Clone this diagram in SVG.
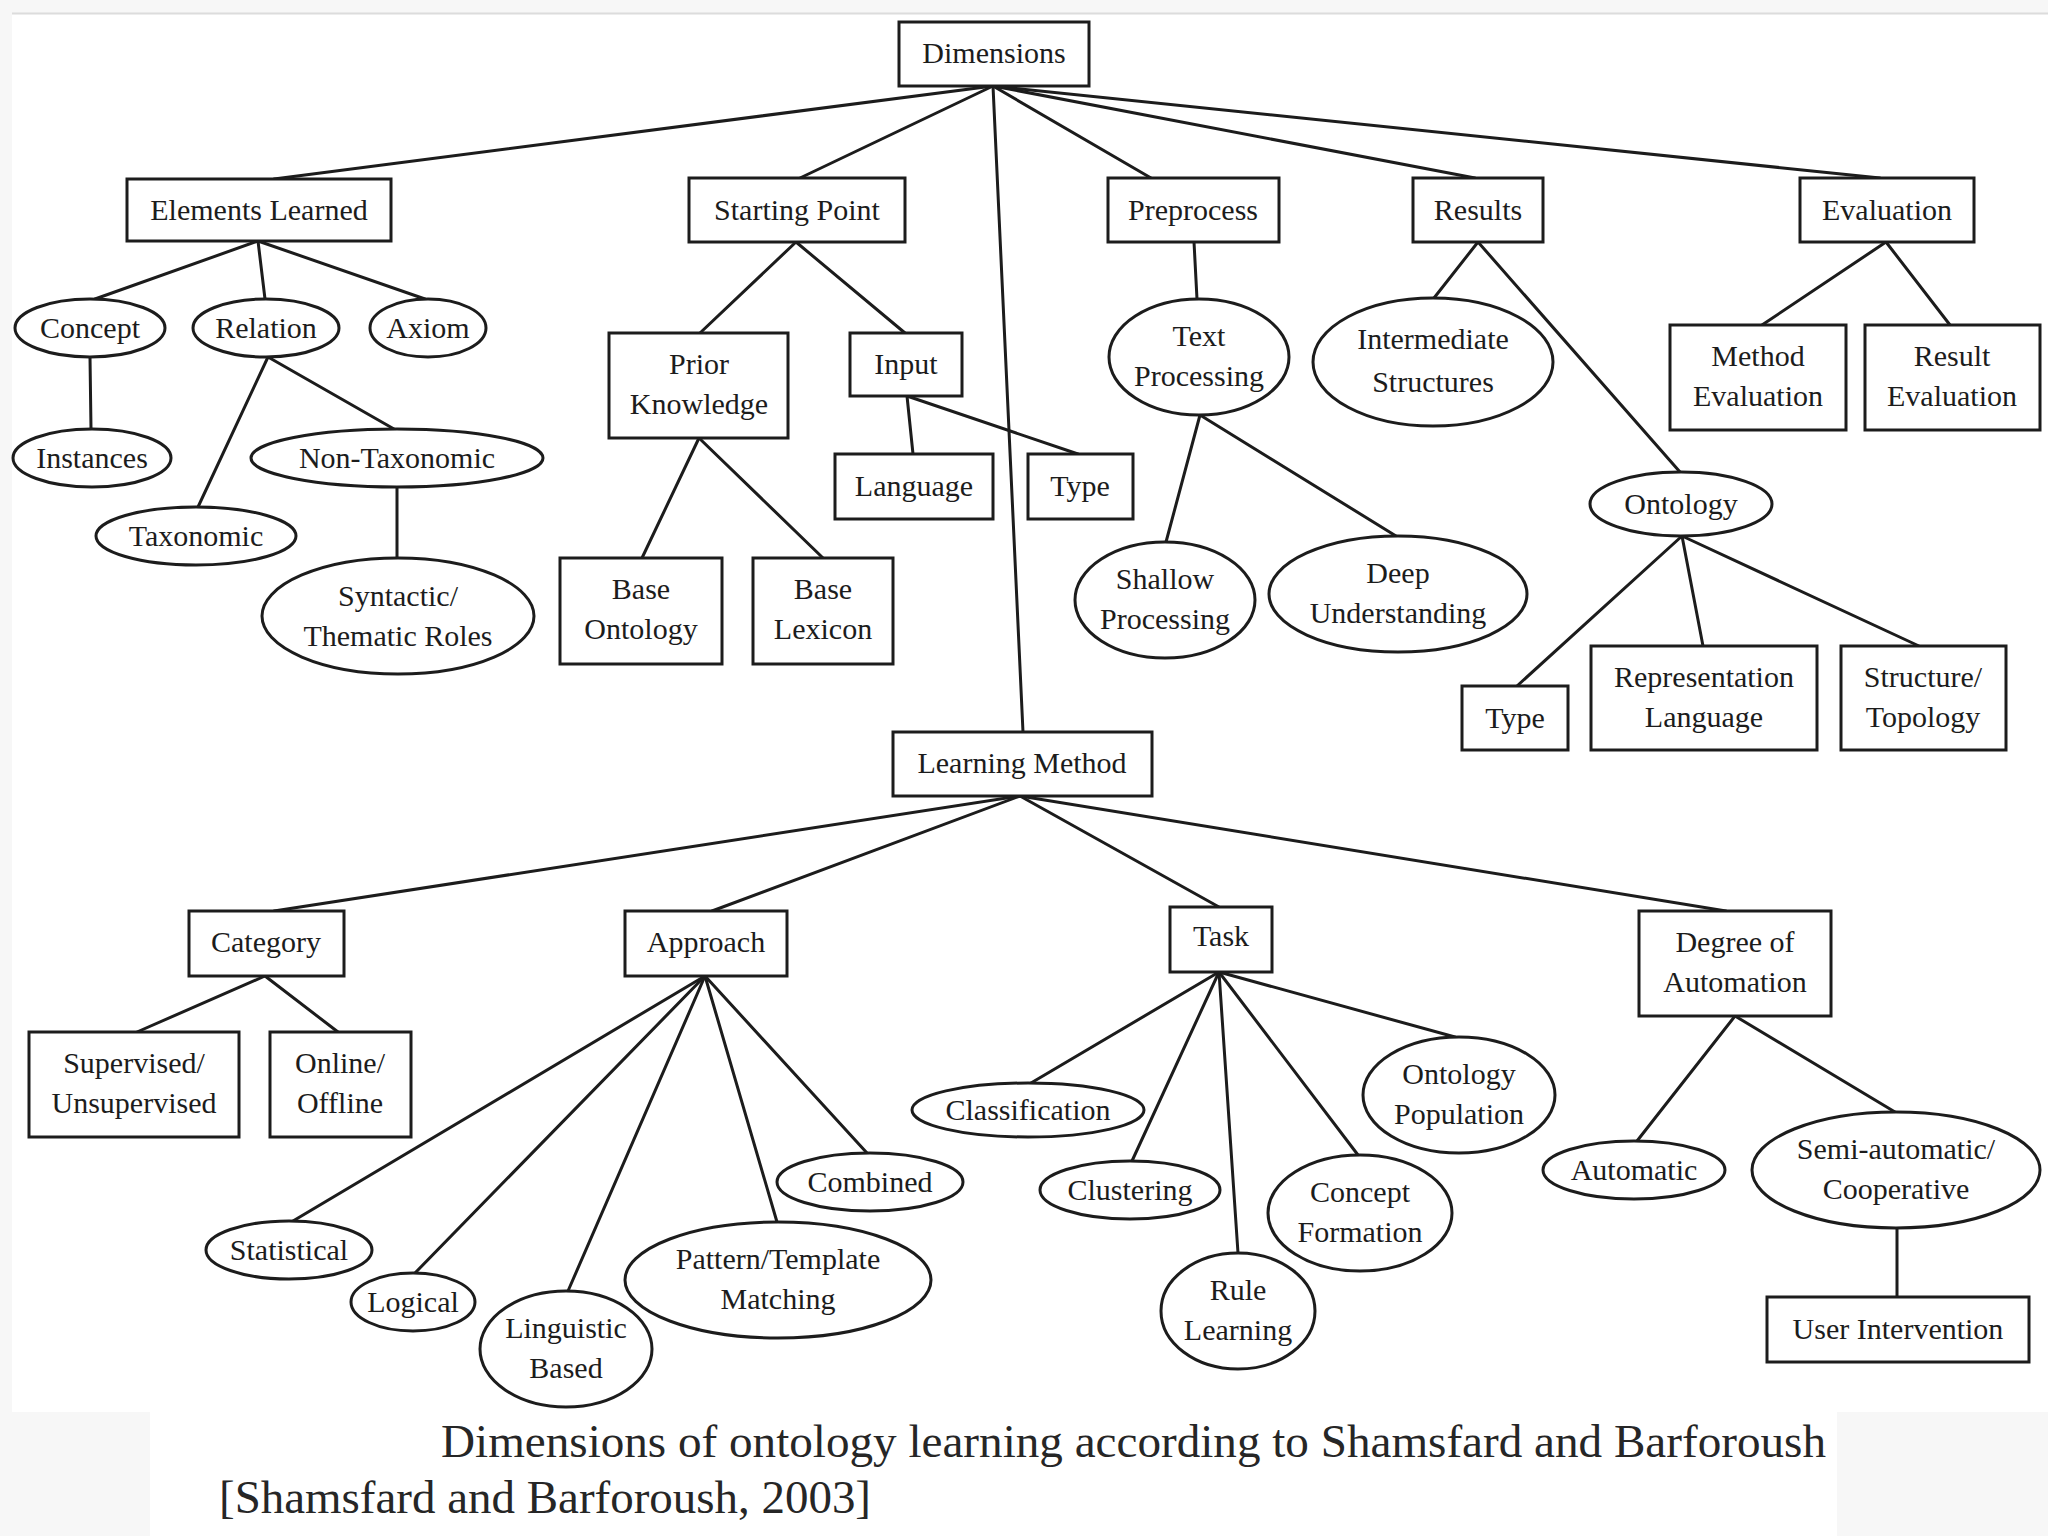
<svg xmlns="http://www.w3.org/2000/svg" width="2048" height="1536" viewBox="0 0 2048 1536">
<style>
.n rect, .n ellipse { fill: #ffffff; stroke: #1c1c1c; stroke-width: 3; }
.n text { font-family: "Liberation Serif", "DejaVu Serif", serif; font-size: 30px; fill: #1c1c1c; text-anchor: middle; }
#connectors line { stroke: #1c1c1c; stroke-width: 3; stroke-linecap: round; }
.cap { font-family: "Liberation Serif", "DejaVu Serif", serif; font-size: 46px; fill: #262626; }
</style>
<rect x="0" y="0" width="2048" height="1536" fill="#f7f7f7"/>
<rect x="12" y="14" width="2036" height="1398" fill="#ffffff"/>
<rect x="150" y="1412" width="1687" height="124" fill="#ffffff"/>
<line x1="12" y1="13.5" x2="2048" y2="13.5" stroke="#dcdcdc" stroke-width="2"/>

<g id="connectors">
<line x1="993" y1="86" x2="274" y2="179"/>
<line x1="993" y1="86" x2="800" y2="178"/>
<line x1="993" y1="86" x2="1151" y2="178"/>
<line x1="993" y1="86" x2="1475" y2="178"/>
<line x1="993" y1="86" x2="1880" y2="178"/>
<line x1="993" y1="86" x2="1023" y2="732"/>
<line x1="258" y1="241" x2="95" y2="299"/>
<line x1="258" y1="241" x2="265" y2="299"/>
<line x1="258" y1="241" x2="425" y2="299"/>
<line x1="90" y1="357" x2="91" y2="429"/>
<line x1="268" y1="357" x2="198" y2="507"/>
<line x1="268" y1="357" x2="394" y2="429"/>
<line x1="397" y1="487" x2="397" y2="558"/>
<line x1="796" y1="242" x2="700" y2="333"/>
<line x1="796" y1="242" x2="905" y2="333"/>
<line x1="699" y1="438" x2="642" y2="558"/>
<line x1="699" y1="438" x2="823" y2="558"/>
<line x1="907" y1="396" x2="913" y2="454"/>
<line x1="907" y1="396" x2="1078" y2="454"/>
<line x1="1194" y1="242" x2="1197" y2="299"/>
<line x1="1200" y1="415" x2="1166" y2="542"/>
<line x1="1200" y1="415" x2="1396" y2="536"/>
<line x1="1478" y1="242" x2="1434" y2="298"/>
<line x1="1478" y1="242" x2="1680" y2="472"/>
<line x1="1682" y1="536" x2="1517" y2="686"/>
<line x1="1682" y1="536" x2="1703" y2="646"/>
<line x1="1682" y1="536" x2="1919" y2="646"/>
<line x1="1886" y1="242" x2="1762" y2="325"/>
<line x1="1886" y1="242" x2="1950" y2="325"/>
<line x1="1020" y1="796" x2="274" y2="911"/>
<line x1="1020" y1="796" x2="712" y2="911"/>
<line x1="1020" y1="796" x2="1219" y2="907"/>
<line x1="1020" y1="796" x2="1726" y2="911"/>
<line x1="265" y1="976" x2="137" y2="1032"/>
<line x1="265" y1="976" x2="338" y2="1032"/>
<line x1="705" y1="976" x2="293" y2="1221"/>
<line x1="705" y1="976" x2="415" y2="1273"/>
<line x1="705" y1="976" x2="568" y2="1291"/>
<line x1="705" y1="976" x2="777" y2="1222"/>
<line x1="705" y1="976" x2="867" y2="1153"/>
<line x1="1219" y1="972" x2="1031" y2="1083"/>
<line x1="1219" y1="972" x2="1132" y2="1161"/>
<line x1="1219" y1="972" x2="1238" y2="1253"/>
<line x1="1219" y1="972" x2="1358" y2="1155"/>
<line x1="1219" y1="972" x2="1455" y2="1037"/>
<line x1="1735" y1="1016" x2="1637" y2="1141"/>
<line x1="1735" y1="1016" x2="1895" y2="1112"/>
<line x1="1897" y1="1228" x2="1897" y2="1297"/>
</g>

<g id="dimensions" class="n"><rect x="899" y="22" width="190" height="64"/><text x="994" y="63">Dimensions</text></g>
<g id="elements-learned" class="n"><rect x="127" y="179" width="264" height="62"/><text x="259" y="220">Elements Learned</text></g>
<g id="starting-point" class="n"><rect x="689" y="178" width="216" height="64"/><text x="797" y="220">Starting Point</text></g>
<g id="preprocess" class="n"><rect x="1108" y="178" width="171" height="64"/><text x="1193" y="220">Preprocess</text></g>
<g id="results" class="n"><rect x="1413" y="178" width="130" height="64"/><text x="1478" y="220">Results</text></g>
<g id="evaluation" class="n"><rect x="1800" y="178" width="174" height="64"/><text x="1887" y="220">Evaluation</text></g>

<g id="concept" class="n"><ellipse cx="90" cy="328" rx="75" ry="29"/><text x="90" y="338">Concept</text></g>
<g id="relation" class="n"><ellipse cx="266" cy="328" rx="73" ry="29"/><text x="266" y="338">Relation</text></g>
<g id="axiom" class="n"><ellipse cx="428" cy="328" rx="58" ry="29"/><text x="428" y="338">Axiom</text></g>
<g id="instances" class="n"><ellipse cx="92" cy="458" rx="79" ry="29"/><text x="92" y="468">Instances</text></g>
<g id="non-taxonomic" class="n"><ellipse cx="397" cy="458" rx="146" ry="29"/><text x="397" y="468">Non-Taxonomic</text></g>
<g id="taxonomic" class="n"><ellipse cx="196" cy="536" rx="100" ry="29"/><text x="196" y="546">Taxonomic</text></g>
<g id="syntactic-thematic-roles" class="n"><ellipse cx="398" cy="616" rx="136" ry="58"/><text x="398" y="606">Syntactic/</text><text x="398" y="646">Thematic Roles</text></g>

<g id="prior-knowledge" class="n"><rect x="609" y="333" width="179" height="105"/><text x="699" y="374">Prior</text><text x="699" y="414">Knowledge</text></g>
<g id="input" class="n"><rect x="850" y="333" width="112" height="63"/><text x="906" y="374">Input</text></g>
<g id="base-ontology" class="n"><rect x="560" y="558" width="162" height="106"/><text x="641" y="599">Base</text><text x="641" y="639">Ontology</text></g>
<g id="base-lexicon" class="n"><rect x="753" y="558" width="140" height="106"/><text x="823" y="599">Base</text><text x="823" y="639">Lexicon</text></g>
<g id="language" class="n"><rect x="835" y="454" width="158" height="65"/><text x="914" y="496">Language</text></g>
<g id="input-type" class="n"><rect x="1028" y="454" width="105" height="65"/><text x="1080" y="496">Type</text></g>

<g id="text-processing" class="n"><ellipse cx="1199" cy="357" rx="90" ry="58"/><text x="1199" y="346">Text</text><text x="1199" y="386">Processing</text></g>
<g id="shallow-processing" class="n"><ellipse cx="1165" cy="600" rx="90" ry="58"/><text x="1165" y="589">Shallow</text><text x="1165" y="629">Processing</text></g>
<g id="deep-understanding" class="n"><ellipse cx="1398" cy="594" rx="129" ry="58"/><text x="1398" y="583">Deep</text><text x="1398" y="623">Understanding</text></g>

<g id="intermediate-structures" class="n"><ellipse cx="1433" cy="362" rx="120" ry="64"/><text x="1433" y="349">Intermediate</text><text x="1433" y="392">Structures</text></g>
<g id="ontology" class="n"><ellipse cx="1681" cy="504" rx="91" ry="32"/><text x="1681" y="514">Ontology</text></g>
<g id="ontology-type" class="n"><rect x="1462" y="686" width="106" height="64"/><text x="1515" y="728">Type</text></g>
<g id="representation-language" class="n"><rect x="1591" y="646" width="226" height="104"/><text x="1704" y="687">Representation</text><text x="1704" y="727">Language</text></g>
<g id="structure-topology" class="n"><rect x="1841" y="646" width="165" height="104"/><text x="1923" y="687">Structure/</text><text x="1923" y="727">Topology</text></g>

<g id="method-evaluation" class="n"><rect x="1670" y="325" width="176" height="105"/><text x="1758" y="366">Method</text><text x="1758" y="406">Evaluation</text></g>
<g id="result-evaluation" class="n"><rect x="1865" y="325" width="175" height="105"/><text x="1952" y="366">Result</text><text x="1952" y="406">Evaluation</text></g>

<g id="learning-method" class="n"><rect x="893" y="732" width="259" height="64"/><text x="1022" y="773">Learning Method</text></g>
<g id="category" class="n"><rect x="189" y="911" width="155" height="65"/><text x="266" y="952">Category</text></g>
<g id="approach" class="n"><rect x="625" y="911" width="162" height="65"/><text x="706" y="952">Approach</text></g>
<g id="task" class="n"><rect x="1170" y="907" width="102" height="65"/><text x="1221" y="946">Task</text></g>
<g id="degree-of-automation" class="n"><rect x="1639" y="911" width="192" height="105"/><text x="1735" y="952">Degree of</text><text x="1735" y="992">Automation</text></g>

<g id="supervised-unsupervised" class="n"><rect x="29" y="1032" width="210" height="105"/><text x="134" y="1073">Supervised/</text><text x="134" y="1113">Unsupervised</text></g>
<g id="online-offline" class="n"><rect x="270" y="1032" width="141" height="105"/><text x="340" y="1073">Online/</text><text x="340" y="1113">Offline</text></g>

<g id="statistical" class="n"><ellipse cx="289" cy="1250" rx="83" ry="29"/><text x="289" y="1260">Statistical</text></g>
<g id="logical" class="n"><ellipse cx="413" cy="1302" rx="62" ry="29"/><text x="413" y="1312">Logical</text></g>
<g id="linguistic-based" class="n"><ellipse cx="566" cy="1349" rx="86" ry="58"/><text x="566" y="1338">Linguistic</text><text x="566" y="1378">Based</text></g>
<g id="pattern-template-matching" class="n"><ellipse cx="778" cy="1280" rx="153" ry="58"/><text x="778" y="1269">Pattern/Template</text><text x="778" y="1309">Matching</text></g>
<g id="combined" class="n"><ellipse cx="870" cy="1182" rx="93" ry="29"/><text x="870" y="1192">Combined</text></g>

<g id="classification" class="n"><ellipse cx="1028" cy="1110" rx="116" ry="27"/><text x="1028" y="1120">Classification</text></g>
<g id="clustering" class="n"><ellipse cx="1130" cy="1190" rx="90" ry="29"/><text x="1130" y="1200">Clustering</text></g>
<g id="rule-learning" class="n"><ellipse cx="1238" cy="1311" rx="77" ry="58"/><text x="1238" y="1300">Rule</text><text x="1238" y="1340">Learning</text></g>
<g id="concept-formation" class="n"><ellipse cx="1360" cy="1213" rx="92" ry="58"/><text x="1360" y="1202">Concept</text><text x="1360" y="1242">Formation</text></g>
<g id="ontology-population" class="n"><ellipse cx="1459" cy="1095" rx="96" ry="58"/><text x="1459" y="1084">Ontology</text><text x="1459" y="1124">Population</text></g>

<g id="automatic" class="n"><ellipse cx="1634" cy="1170" rx="91" ry="29"/><text x="1634" y="1180">Automatic</text></g>
<g id="semi-automatic-cooperative" class="n"><ellipse cx="1896" cy="1170" rx="144" ry="58"/><text x="1896" y="1159">Semi-automatic/</text><text x="1896" y="1199">Cooperative</text></g>
<g id="user-intervention" class="n"><rect x="1767" y="1297" width="262" height="65"/><text x="1898" y="1339">User Intervention</text></g>

<g id="caption">
<text class="cap" x="441" y="1457" textLength="1385" lengthAdjust="spacingAndGlyphs">Dimensions of ontology learning according to Shamsfard and Barforoush</text>
<text class="cap" x="219" y="1513" textLength="652" lengthAdjust="spacingAndGlyphs">[Shamsfard and Barforoush, 2003]</text>
</g>
</svg>
